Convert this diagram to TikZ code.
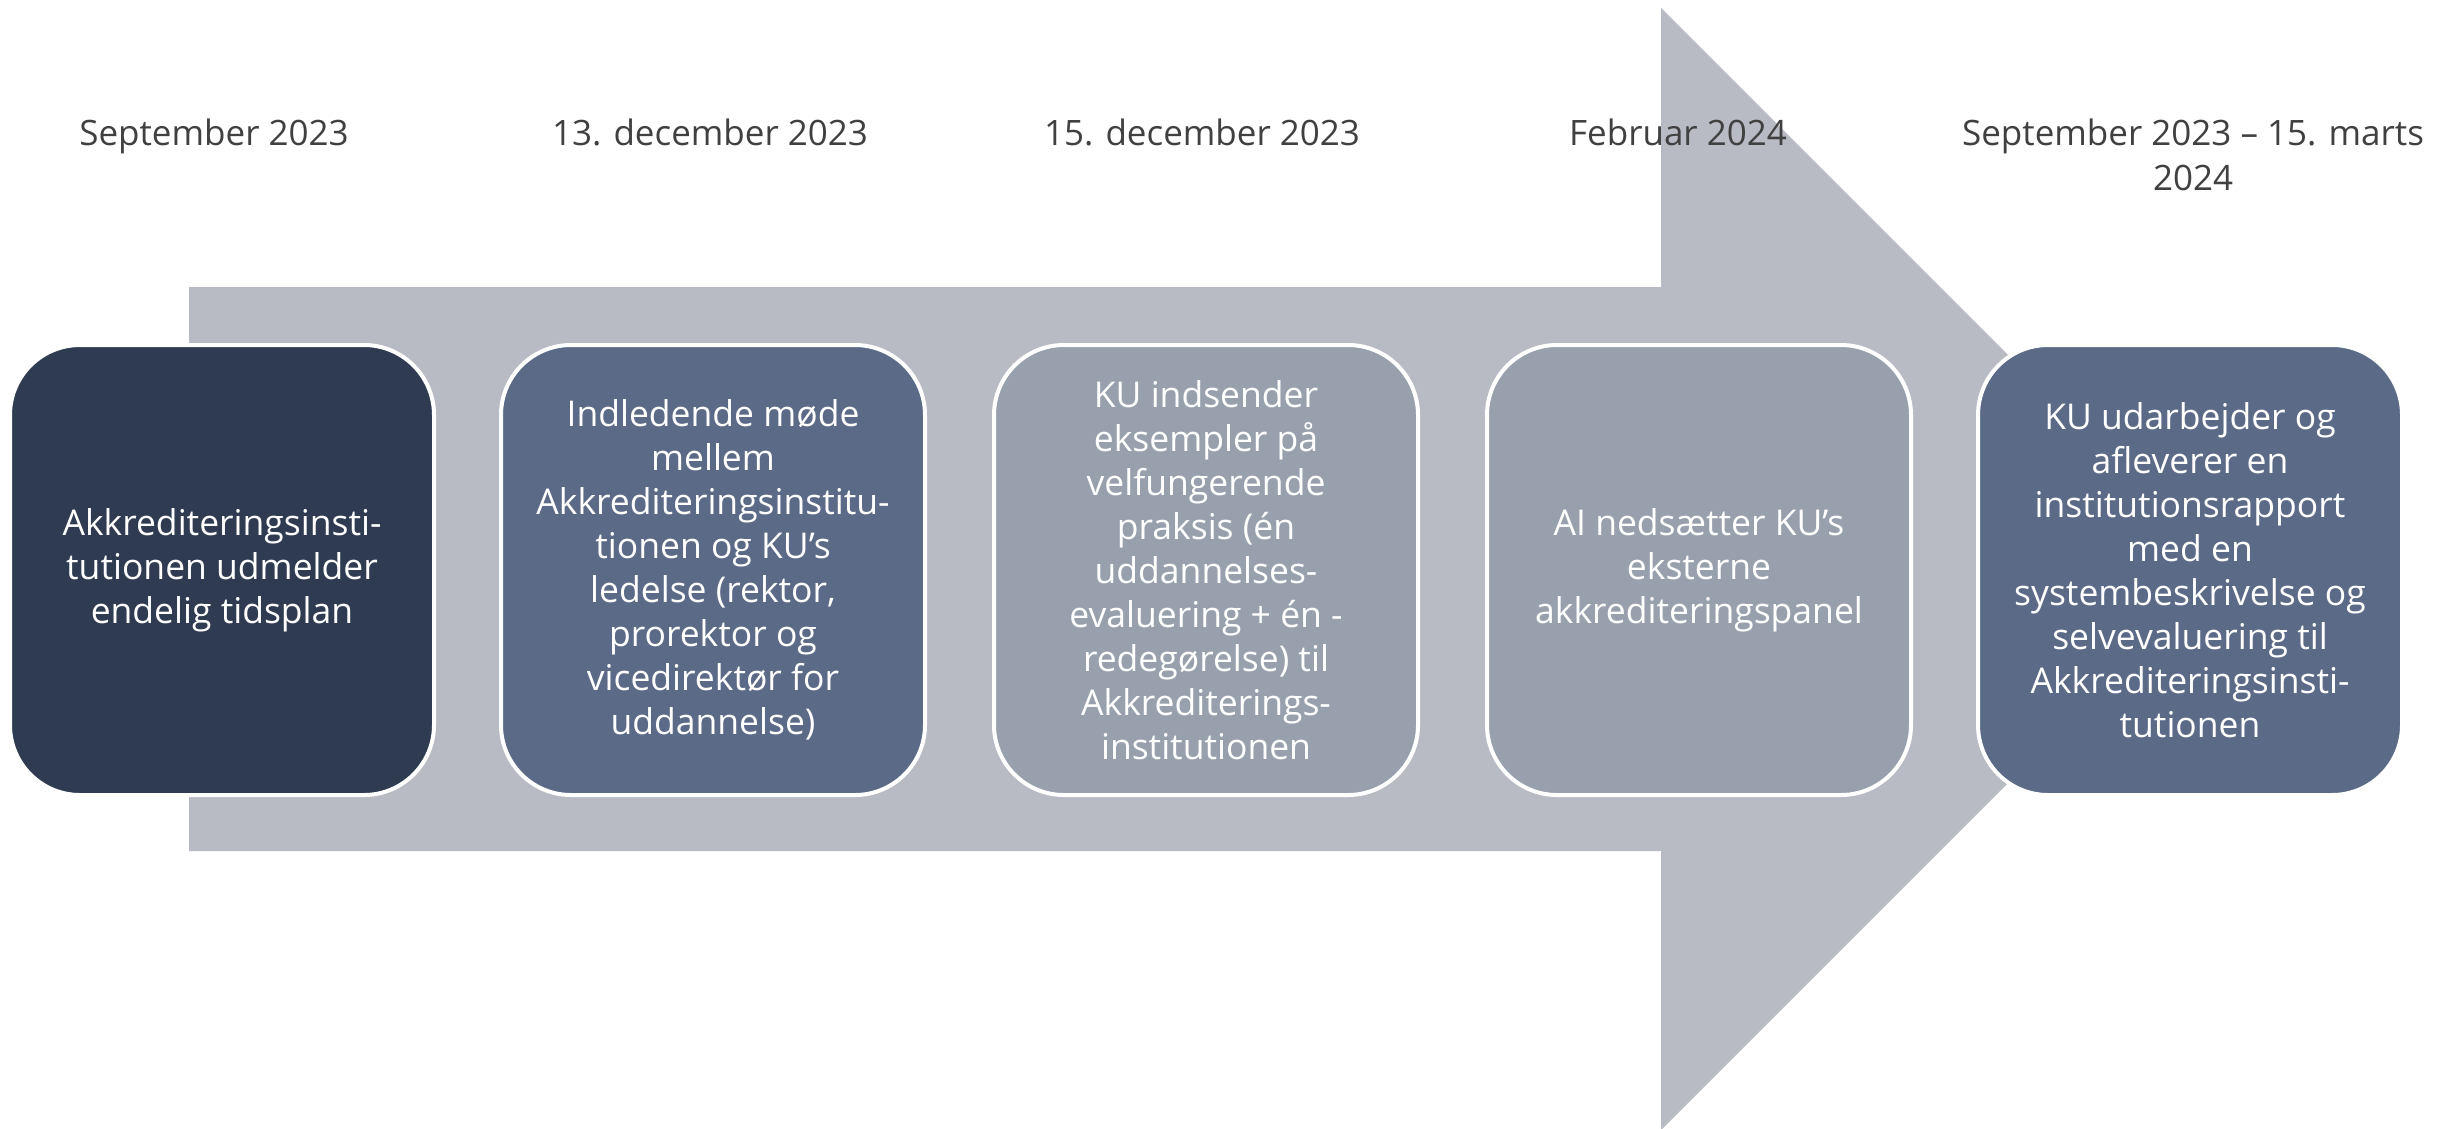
\documentclass[tikz,border=0pt]{standalone}
\usepackage{fontspec}
\setmainfont{Open Sans}
\definecolor{arrowgray}{HTML}{B8BBC3}
\definecolor{navy}{HTML}{2E3B50}
\definecolor{slate}{HTML}{5A6A87}
\definecolor{steel}{HTML}{98A0AE}
\definecolor{datetext}{HTML}{404040}
\begin{document}
\begin{tikzpicture}[x=1pt,y=-1pt,
  stepbox/.style={draw=white, line width=4pt, rounded corners=70pt,
    minimum width=424pt, minimum height=450pt, text=white, align=center,
    font=\fontsize{35.5}{44}\selectfont, inner sep=0pt},
  datelabel/.style={text=datetext, align=center,
    font=\fontsize{35}{45}\selectfont, anchor=north, inner sep=0pt}]
\useasboundingbox (0,0) rectangle (2448,1128);
\begin{scope}
\clip (0,0) rectangle (2448,1128);
\fill[arrowgray] (189,287) -- (1661,287) -- (1661,8) -- (2222,569)
  -- (1661,1130) -- (1661,851) -- (189,851) -- cycle;
\end{scope}
\node[stepbox, fill=navy] (b1) at (222,570)
  {Akkrediteringsinsti-\\tutionen udmelder\\endelig tidsplan};
\node[stepbox, fill=slate] (b2) at (713,570)
  {Indledende møde\\mellem\\Akkrediteringsinstitu-\\tionen og KU’s\\ledelse (rektor,\\prorektor og\\vicedirektør for\\uddannelse)};
\node[stepbox, fill=steel] (b3) at (1206,570)
  {KU indsender\\eksempler på\\velfungerende\\praksis (én\\uddannelses-\\evaluering + én -\\redegørelse) til\\Akkrediterings-\\institutionen};
\node[stepbox, fill=steel] (b4) at (1699,570)
  {AI nedsætter KU’s\\eksterne\\akkrediteringspanel};
\node[stepbox, fill=slate] (b5) at (2190,570)
  {KU udarbejder og\\afleverer en\\institutionsrapport\\med en\\systembeskrivelse og\\selvevaluering til\\Akkrediteringsinsti-\\tutionen};
\node[datelabel] (d1) at (214,119) {September 2023};
\node[datelabel] (d2) at (710,119) {13. december 2023};
\node[datelabel] (d3) at (1202,119) {15. december 2023};
\node[datelabel] (d4) at (1678,119) {Februar 2024};
\node[datelabel] (d5) at (2193,119) {September 2023 – 15. marts\\2024};
\end{tikzpicture}
\end{document}
